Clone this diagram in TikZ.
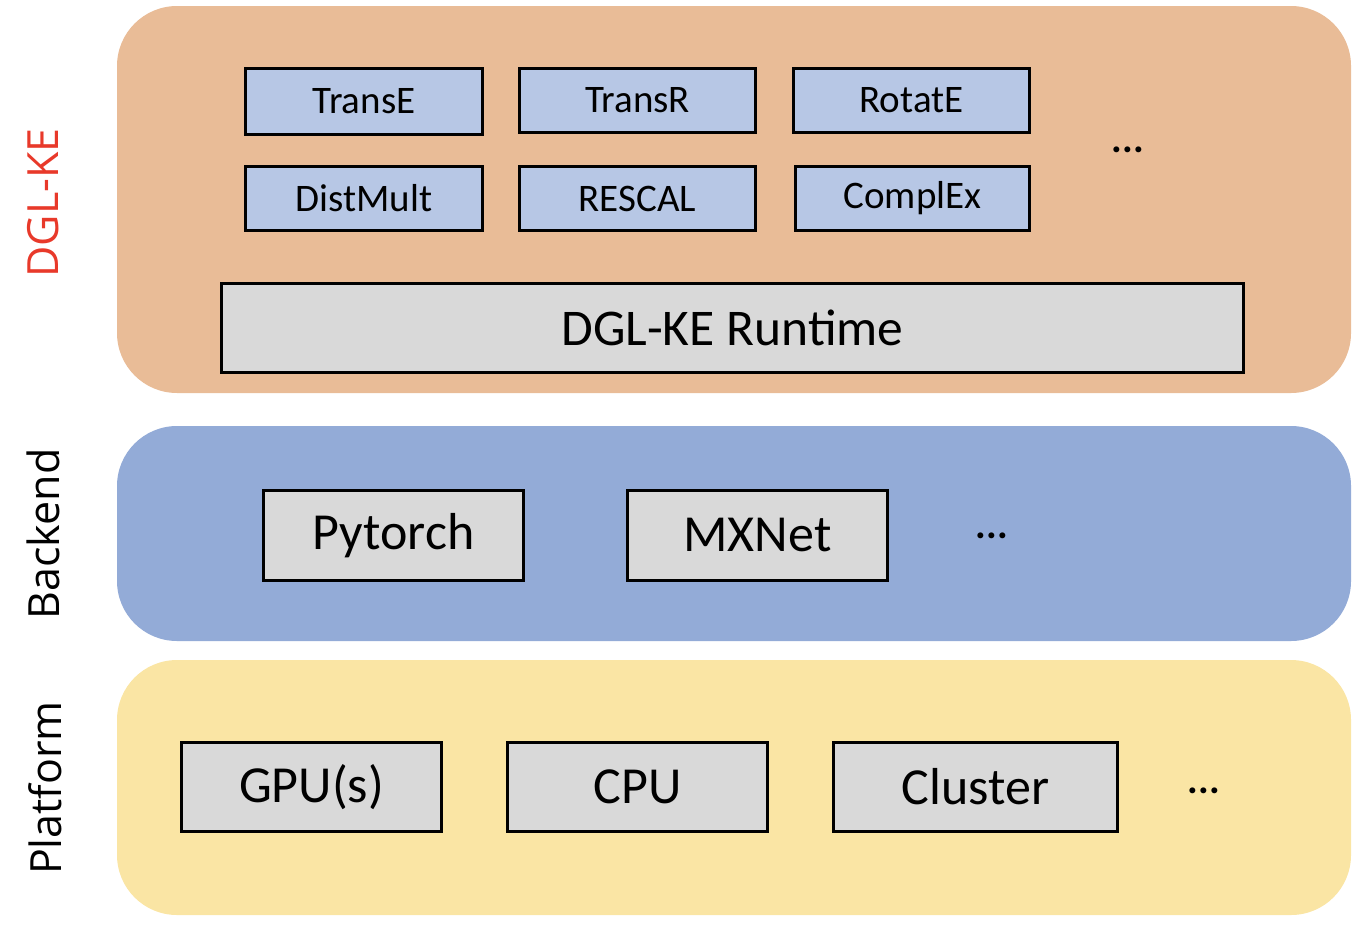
\documentclass[tikz,border=0pt]{standalone}
\usepackage{fontspec}
\setmainfont{Carlito}
\newfontfamily\sidefont{Open Sans}
\definecolor{orangebg}{HTML}{E9BC97}
\definecolor{bluebg}{HTML}{93ABD7}
\definecolor{yellowbg}{HTML}{FAE5A4}
\definecolor{modelfill}{HTML}{B7C7E5}
\definecolor{grayfill}{HTML}{D9D9D9}
\definecolor{dglred}{HTML}{E8392A}
\begin{document}
\begin{tikzpicture}[x=1pt,y=-1pt,
  panel/.style={rounded corners=60pt},
  box/.style={draw=black,line width=3.5pt,inner sep=0pt,outer sep=0pt,anchor=north west},
  modelbox/.style={box,fill=modelfill,font=\fontsize{39}{44}\selectfont},
  graybox/.style={box,fill=grayfill},
  sidelabel/.style={rotate=90,font=\sidefont\fontsize{43}{50}\selectfont},
  dots/.style={font=\bfseries\fontsize{40}{44}\selectfont}]
\useasboundingbox (0,0) rectangle (1364,926);
% panels
\fill[orangebg,panel] (117,6) rectangle (1351,393);
\fill[bluebg,panel] (117,426) rectangle (1351,641);
\fill[yellowbg,panel] (117,660) rectangle (1351,915);
% side labels
\node[sidelabel,text=dglred] (lab1) at (43,203) {DGL-KE};
\node[sidelabel] (lab2) at (43,534) {Backend};
\node[sidelabel] (lab3) at (45,788) {Platform};
% model boxes
\node[modelbox,minimum width=237pt,minimum height=66pt] (transe) at (245.5,68.5) {TransE};
\node[modelbox,minimum width=236pt,minimum height=64pt] (transr) at (519.5,68.5) {TransR};
\node[modelbox,minimum width=236pt,minimum height=64pt] (rotate) at (793.5,68.5) {RotatE};
\node[modelbox,minimum width=237pt,minimum height=64pt] (distmult) at (245.5,166.5) {DistMult};
\node[modelbox,minimum width=236pt,minimum height=64pt] (rescal) at (519.5,166.5) {RESCAL};
\node[modelbox,minimum width=234pt,minimum height=64pt] (complex) at (795.5,166.5) {ComplEx};
\node[dots] (dots1) at (1128,150) {...};
% runtime
\node[graybox,minimum width=1022pt,minimum height=89pt,font=\fontsize{51.5}{56}\selectfont] (runtime) at (221.5,283.5) {DGL-KE Runtime};
% backend
\node[graybox,minimum width=260pt,minimum height=90pt,font=\fontsize{52}{58}\selectfont] (pytorch) at (263.5,490.5) {Pytorch};
\node[graybox,minimum width=260pt,minimum height=90pt,font=\fontsize{52}{58}\selectfont] (mxnet) at (627.5,490.5) {MXNet};
\node[dots] (dots2) at (992,536) {...};
% platform
\node[graybox,minimum width=260pt,minimum height=89pt,font=\fontsize{52}{58}\selectfont] (gpu) at (181.5,742.5) {GPU(s)};
\node[graybox,minimum width=260pt,minimum height=89pt,font=\fontsize{52}{58}\selectfont] (cpu) at (507.5,742.5) {CPU};
\node[graybox,minimum width=284pt,minimum height=89pt,font=\fontsize{52}{58}\selectfont] (cluster) at (833.5,742.5) {Cluster};
\node[dots] (dots3) at (1204,791) {...};
\end{tikzpicture}
\end{document}
